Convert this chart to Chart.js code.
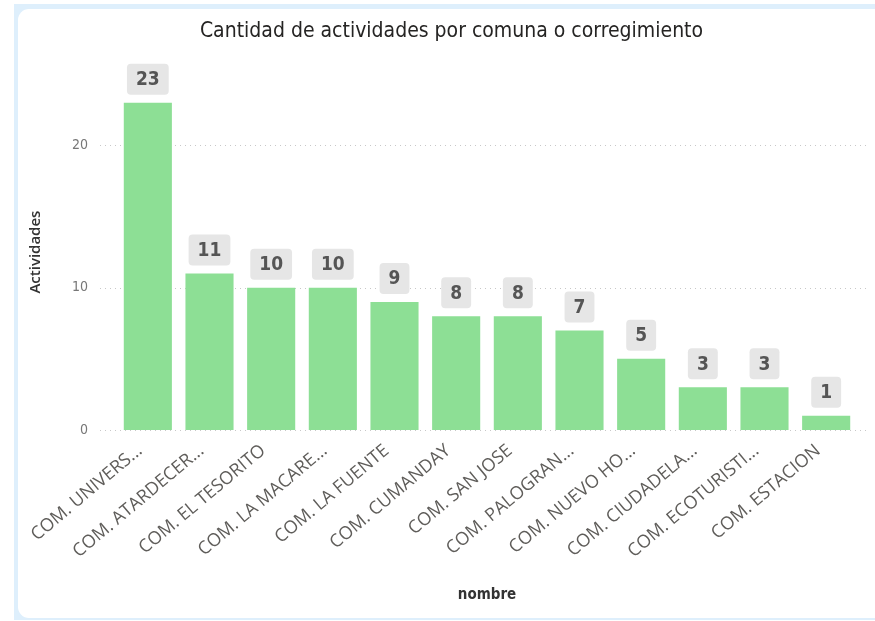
<!DOCTYPE html>
<html>
<head>
<meta charset="utf-8">
<script src="https://cdn.jsdelivr.net/npm/chart.js@4.4.0/dist/chart.umd.min.js"></script>
<style>
  html, body { margin: 0; padding: 0; background: #fff; }
  #frame { position: absolute; left: 14px; top: 4px; width: 861px; height: 616px; background: #deeffc; }
  #card { position: absolute; left: 4px; top: 5px; right: -20px; bottom: 2px; background: #fff; border-radius: 11px; }
  #wrap { position: absolute; left: 0; top: 0; width: 875px; height: 621px; }
</style>
</head>
<body>
<div id="frame"><div id="card"></div></div>
<div id="wrap"><canvas id="grafico" width="875" height="621"></canvas></div>
<script>
const comunas = [
  "COM. UNIVERS...",
  "COM. ATARDECER...",
  "COM. EL TESORITO",
  "COM. LA MACARE...",
  "COM. LA FUENTE",
  "COM. CUMANDAY",
  "COM. SAN JOSE",
  "COM. PALOGRAN...",
  "COM. NUEVO HO...",
  "COM. CIUDADELA...",
  "COM. ECOTURISTI...",
  "COM. ESTACION",
];
const actividades = [23, 11, 10, 10, 9, 8, 8, 7, 5, 3, 3, 1];
const ticksY = [0, 10, 20];

// lineas punteadas de la grilla, un poco mas anchas que el area
const grillaPunteada = {
  id: "grillaPunteada",
  afterLayout(chart) {
    // correr el titulo un poco a la derecha, como en el original
    if (chart.titleBlock) {
      chart.titleBlock.left += 16;
      chart.titleBlock.right += 16;
    }
  },
  beforeDatasetsDraw(chart) {
    const { ctx, chartArea, scales } = chart;
    ctx.save();
    ctx.strokeStyle = "#c8c8c8";
    ctx.lineWidth = 1;
    ctx.setLineDash([1, 4]);
    ticksY.forEach((v) => {
      const y = Math.round(scales.y.getPixelForValue(v)) + 0.5;
      ctx.beginPath();
      ctx.moveTo(chartArea.left - 17, y);
      ctx.lineTo(chartArea.right + 13, y);
      ctx.stroke();
    });
    ctx.restore();
  },
};

// etiquetas de valor con caja gris redondeada
const etiquetas = {
  id: "etiquetas",
  afterDatasetsDraw(chart) {
    const { ctx } = chart;
    const meta = chart.getDatasetMeta(0);
    ctx.save();
    ctx.font = "bold 19px 'DejaVu Sans Condensed'";
    ctx.textAlign = "center";
    ctx.textBaseline = "middle";
    meta.data.forEach((bar, i) => {
      const txt = String(actividades[i]);
      const w = Math.max(28, ctx.measureText(txt).width + 18);
      const h = 31;
      const x = bar.x - w / 2;
      const y = bar.y - 8 - h;
      ctx.fillStyle = "#e6e6e6";
      ctx.beginPath();
      ctx.roundRect(x, y, w, h, 4);
      ctx.fill();
      ctx.fillStyle = "#555555";
      ctx.fillText(txt, bar.x, y + h / 2 + 1);
    });
    ctx.restore();
  },
};

const ctx = document.getElementById("grafico").getContext("2d");

new Chart(ctx, {
  type: "bar",
  data: {
    labels: comunas,
    datasets: [
      {
        label: "Actividades",
        data: actividades,
        backgroundColor: "#8ddf95",
        categoryPercentage: 0.78,
        barPercentage: 1.0,
      },
    ],
  },
  options: {
    responsive: false,
    animation: false,
    layout: {
      padding: { left: 14, right: 18, top: 5, bottom: 11 },
    },
    plugins: {
      legend: { display: false },
      tooltip: { enabled: false },
      title: {
        display: true,
        text: "Cantidad de actividades por comuna o corregimiento",
        color: "#252423",
        font: { family: "'DejaVu Sans Condensed'", size: 21, weight: "normal" },
        padding: { top: 14, bottom: 30 },
      },
    },
    scales: {
      y: {
        min: 0,
        max: 25,
        afterFit(scale) {
          scale.width = 103;
        },
        ticks: {
          stepSize: 10,
          includeBounds: false,
          color: "#777777",
          padding: 29,
          font: { family: "'DejaVu Sans Condensed'", size: 14 },
        },
        grid: { display: false, drawTicks: false },
        border: { display: false },
        title: {
          display: true,
          text: "Actividades",
          color: "#333333",
          font: { family: "'Open Sans'", size: 15, weight: "600" },
          padding: { top: 13, bottom: 0 },
        },
      },
      x: {
        afterFit(scale) {
          scale.height = 180;
        },
        ticks: {
          minRotation: 40,
          maxRotation: 40,
          autoSkip: false,
          color: "#5f5d5a",
          padding: 10,
          labelOffset: -8,
          font: { family: "'Open Sans'", size: 18 },
        },
        grid: { display: false, drawTicks: false },
        border: { display: false },
        title: {
          display: true,
          text: "nombre",
          color: "#333333",
          font: { family: "'DejaVu Sans Condensed'", size: 15, weight: "bold" },
          padding: { top: 0, bottom: 6 },
        },
      },
    },
  },
  plugins: [grillaPunteada, etiquetas],
});
</script>
</body>
</html>
